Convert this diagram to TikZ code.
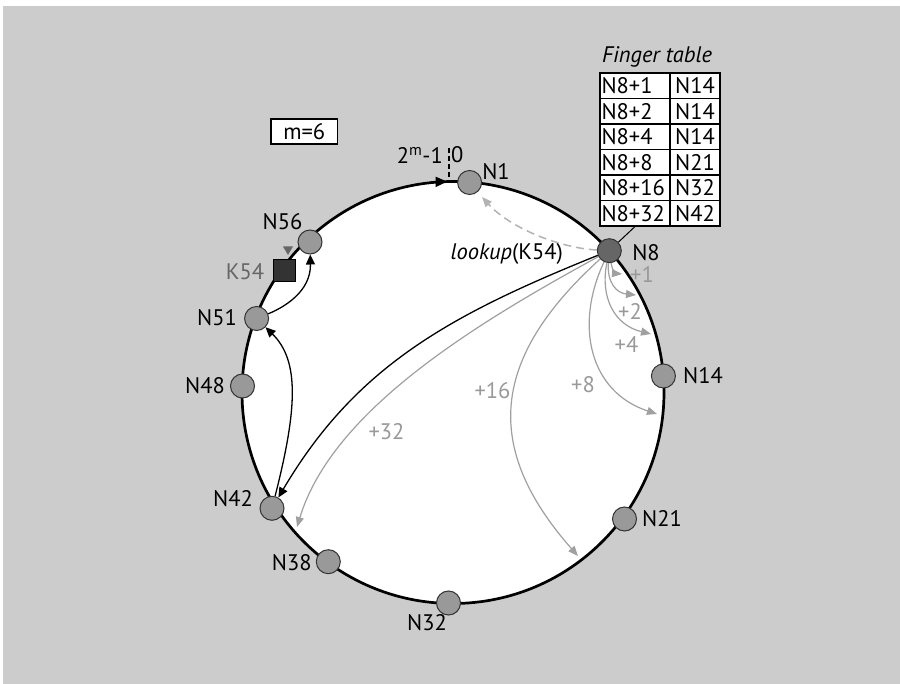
\documentclass[tikz,border=0pt]{standalone}
\usepackage{fontspec}
\setmainfont{PT Sans}
\usetikzlibrary{arrows.meta}
\definecolor{bg}{HTML}{CCCCCC}
\definecolor{ndfill}{HTML}{999999}
\definecolor{ndfilldark}{HTML}{666666}
\definecolor{ndedge}{HTML}{333333}
\definecolor{arrgray}{HTML}{A0A0A0}
\definecolor{lblgray}{HTML}{999999}
\definecolor{keygray}{HTML}{666666}
\newcommand\myfnt{\fontsize{22.5}{26}\selectfont}
\begin{document}
\begin{tikzpicture}[x=1pt,y=-1pt,
  nd/.style={circle,minimum size=24pt,inner sep=0pt,fill=ndfill,draw=ndedge,line width=1pt},
  lbl/.style={font=\myfnt,text=black,inner sep=0pt},
  glbl/.style={font=\myfnt,text=lblgray,inner sep=0pt},
  cellL/.style={draw=black,fill=white,line width=1.1pt,font=\myfnt,text width=67pt,inner xsep=1.5pt,inner ysep=0pt,minimum height=25.5pt,align=left},
  cellR/.style={draw=black,fill=white,line width=1.1pt,font=\myfnt,text width=46pt,inner xsep=2pt,inner ysep=0pt,minimum height=25.5pt,align=center},
  garr/.style={draw=arrgray,line width=1.2pt,-{Triangle[length=10pt,width=8pt]}},
  barr/.style={draw=black,line width=1.3pt,-{Triangle[length=10pt,width=9pt]}}
]
\useasboundingbox (0,0) rectangle (900,684);
\fill[white] (0,0) rectangle (900,684);
\fill[bg] (3,6) rectangle (900,684);

% ring
\draw[line width=2.7pt,fill=white] (453,392.5) circle[radius=211pt];

% ring direction arrow and zero tick
\fill[black] (447,181.6) -- (435.5,176.6) -- (435.5,187.2) -- cycle;
\coordinate (tickTop) at (448.5,148);
\coordinate (tickBot) at (448.5,181.5);
\draw[line width=2pt,dash pattern=on 5pt off 3pt] (tickTop) -- (tickBot);
\node[lbl,anchor=east] (twom) at (443,155) {2\textsuperscript{m}-1};
\node[lbl,anchor=west] (zero) at (451,155) {0};

% m=6 box
\node[draw=black,fill=white,line width=1.1pt,minimum width=66.5pt,minimum height=25pt,inner sep=0pt,font=\myfnt] (mbox) at (304.25,131.5) {m=6};

% key K54
\node[draw=black,fill=ndedge,minimum size=22pt,inner sep=0pt,line width=0.8pt] (K54) at (284.5,270) {};
\fill[keygray] (283,246.5) -- (293,246.5) -- (288,255) -- cycle;

% nodes
\node[nd] (N1) at (469.6,182.5) {};
\node[nd,fill=ndfilldark] (N8) at (609.3,250.7) {};
\node[nd] (N14) at (663.4,376) {};
\node[nd] (N21) at (624.5,519) {};
\node[nd] (N32) at (448.5,603) {};
\node[nd] (N38) at (328.3,561.7) {};
\node[nd] (N42) at (272,508.3) {};
\node[nd] (N48) at (242.5,386) {};
\node[nd] (N51) at (256.6,318.5) {};
\node[nd] (N56) at (310,242) {};

% node labels
\node[lbl] (lN1) at (496,171.5) {N1};
\node[lbl] (lN8) at (646,252.5) {N8};
\node[lbl] (lN14) at (703,376) {N14};
\node[lbl] (lN21) at (662,519) {N21};
\node[lbl] (lN32) at (427,622.5) {N32};
\node[lbl] (lN38) at (291.7,563) {N38};
\node[lbl] (lN42) at (233,499) {N42};
\node[lbl] (lN48) at (205,385.5) {N48};
\node[lbl] (lN51) at (217,317.5) {N51};
\node[lbl] (lN56) at (282.5,221.7) {N56};
\node[font=\myfnt,text=keygray,inner sep=0pt] (lK54) at (245,271.5) {K54};

% finger table
\node[font=\myfnt\itshape,inner sep=0pt] (ftitle) at (657,56.5) {Finger table};
\node[cellL] (tL1) at (635,85.75) {N8+1};
\node[cellR] (tR1) at (695,85.75) {N14};
\node[cellL] (tL2) at (635,111.25) {N8+2};
\node[cellR] (tR2) at (695,111.25) {N14};
\node[cellL] (tL3) at (635,136.75) {N8+4};
\node[cellR] (tR3) at (695,136.75) {N14};
\node[cellL] (tL4) at (635,162.25) {N8+8};
\node[cellR] (tR4) at (695,162.25) {N21};
\node[cellL] (tL5) at (635,187.75) {N8+16};
\node[cellR] (tR5) at (695,187.75) {N32};
\node[cellL] (tL6) at (635,213.25) {N8+32};
\node[cellR] (tR6) at (695,213.25) {N42};
\draw[line width=1pt] (tL6.south) -- (N8);

% finger arrows
\coordinate (t1) at (622,274);
\coordinate (t2) at (636,295);
\coordinate (t4) at (651,334);
\coordinate (t8) at (657,414);
\coordinate (t16) at (578,556);
\coordinate (t32) at (297,527);
\coordinate (tN1) at (482,197);
\draw[garr] (N8) .. controls (612,270) and (616,273.5) .. (t1);
\draw[garr] (N8) .. controls (607,282) and (616,293) .. (t2);
\draw[garr] (N8) .. controls (600,297) and (614,325) .. (t4);
\draw[garr] (N8) .. controls (574,326) and (590,392) .. (t8);
\draw[garr] (N8) .. controls (491,358) and (482,447) .. (t16);
\draw[garr] (N8) .. controls (471,326) and (332,412) .. (t32);
\draw[garr,draw=arrgray!80,line width=1.5pt,dash pattern=on 8pt off 5pt] (N8) .. controls (560,248) and (510,228) .. (tN1);

\node[glbl] (p1) at (642,274) {+1};
\node[glbl] (p2) at (630,311.5) {+2};
\node[glbl] (p4) at (626.5,344.5) {+4};
\node[glbl] (p8) at (583,385) {+8};
\node[glbl] (p16) at (492.5,391) {+16};
\node[glbl] (p32) at (386.5,432) {+32};

% lookup path
\draw[barr] (N8) .. controls (450,315) and (356,366) .. (N42);
\draw[barr] (N42) .. controls (297,410) and (300,361) .. (N51);
\draw[barr] (N51) .. controls (285,307) and (311,291) .. (N56);
\node[lbl] (lookup) at (506.7,254) {\textit{lookup}(K54)};
\end{tikzpicture}
\end{document}
